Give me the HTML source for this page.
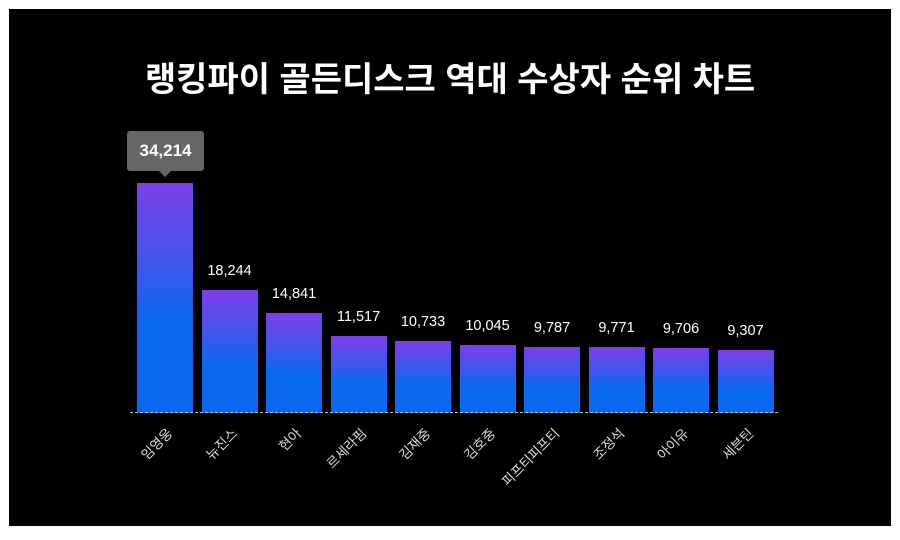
<!DOCTYPE html>
<html><head><meta charset="utf-8"><style>
body{margin:0;background:#fff;width:900px;height:540px;overflow:hidden;font-family:"Liberation Sans","Noto Sans CJK KR",sans-serif}
#bg{position:absolute;left:9px;top:9px;width:882px;height:517px;background:#000}
.t{position:absolute;left:0;width:900px;top:52px;text-align:center;color:#fff;font-size:34px;font-weight:bold}
.b{position:absolute;width:56px;background:linear-gradient(#7b3fe6 0%,#3f55ee 35%,#0b68f0 60%,#0b68f0 100%)}
.v{position:absolute;width:80px;text-align:center;color:#fff;font-size:14.5px}
.l{position:absolute;color:#ddd;font-size:13.5px;transform-origin:right center;transform:rotate(-45deg);white-space:nowrap;text-align:right;width:100px}
#base{position:absolute;left:130px;width:648px;top:412px;border-top:1px dashed #bbb}
.tip{position:absolute;left:127px;top:131px;width:77px;height:40px;background:#666;border-radius:3px;color:#fff;font-weight:bold;font-size:17px;text-align:center;line-height:40px}
.tip:after{content:"";position:absolute;left:32px;top:40px;border:6px solid transparent;border-top-color:#666}
</style></head><body>
<div id="bg"></div>
<div class="t">랭킹파이 골든디스크 역대 수상자 순위 차트</div>
<div id="c"></div>
<div id="base"></div>
<div class="tip">34,214</div>
<script>
var d=[["임영웅",34214],["뉴진스",18244],["현아",14841],["르세라핌",11517],["김재중",10733],["김호중",10045],["피프티피프티",9787],["조정석",9771],["아이유",9706],["세븐틴",9307]];
var h="";
d.forEach(function(e,i){var x=137+i*64.5,hh=e[1]*230/34214,top=413-hh;
h+='<div class="b" style="left:'+x+'px;top:'+top+'px;height:'+hh+'px"></div>';
if(i>0)h+='<div class="v" style="left:'+(x-12)+'px;top:'+(top-27)+'px">'+e[1].toLocaleString("en-US")+'</div>';
h+='<div class="l" style="left:'+(x+32-100)+'px;top:'+420+'px">'+e[0]+'</div>';});
document.getElementById("c").innerHTML=h;
</script>
</body></html>
